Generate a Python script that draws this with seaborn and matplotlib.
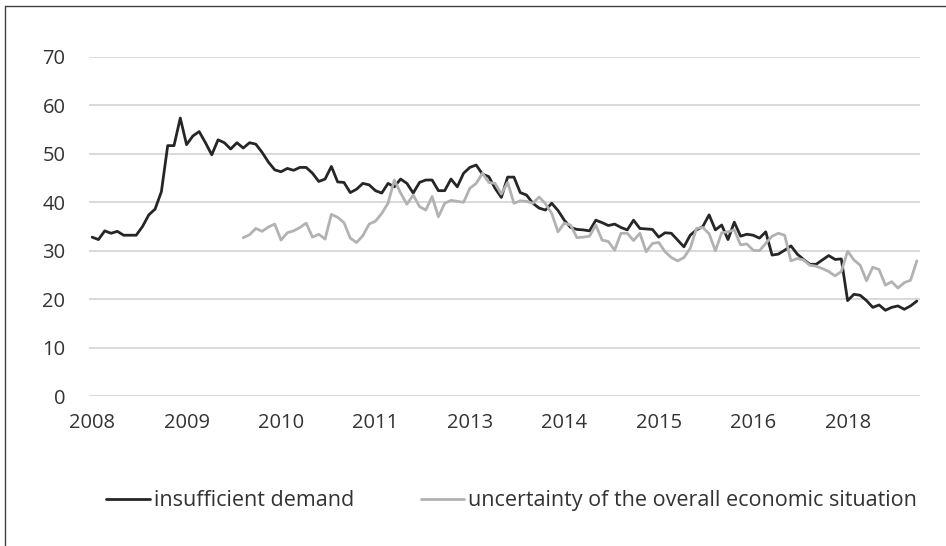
import matplotlib
matplotlib.use("Agg")
import matplotlib.pyplot as plt
from matplotlib.lines import Line2D
import seaborn as sns
import pandas as pd
import numpy as np

# monthly survey shares (%), Jan 2008 - Dec 2018
start_month = "2008-01"
n_months = 132
label_every = 15  # axis shows a label every 15 months

insufficient_demand = [
    32.8, 32.3, 34.1, 33.6, 34.0, 33.2, 33.2, 33.2, 35.0, 37.4,
    38.6, 42.2, 51.7, 51.7, 57.4, 51.9, 53.7, 54.6, 52.3, 49.8,
    52.9, 52.3, 51.0, 52.3, 51.2, 52.3, 52.0, 50.3, 48.3, 46.7,
    46.3, 47.0, 46.6, 47.2, 47.2, 46.0, 44.3, 44.8, 47.4, 44.2,
    44.1, 42.0, 42.7, 43.9, 43.6, 42.4, 41.9, 43.9, 43.2, 44.8,
    43.9, 41.9, 44.1, 44.6, 44.6, 42.4, 42.4, 44.8, 43.2, 46.0,
    47.2, 47.7, 45.8, 45.3, 42.9, 41.0, 45.2, 45.2, 42.0, 41.5,
    39.8, 38.8, 38.4, 39.8, 38.3, 36.3, 34.8, 34.4, 34.3, 34.1,
    36.3, 35.8, 35.2, 35.5, 34.8, 34.3, 36.3, 34.6, 34.5, 34.4,
    32.8, 33.7, 33.6, 32.2, 30.8, 33.2, 34.3, 35.0, 37.4, 34.3,
    35.3, 32.3, 35.9, 33.0, 33.4, 33.2, 32.6, 33.9, 29.1, 29.3,
    30.1, 31.0, 29.3, 28.2, 27.2, 27.2, 28.1, 29.0, 28.2, 28.3,
    19.7, 21.0, 20.8, 19.7, 18.3, 18.8, 17.7, 18.3, 18.6, 17.9,
    18.6, 19.6,
]

# series starts in Jan 2010
uncertainty_start = 24
uncertainty = [
    32.7, 33.3, 34.6, 34.0, 34.9, 35.5,
    32.2, 33.7, 34.1, 34.8, 35.7, 32.8, 33.4, 32.4, 37.5, 36.9,
    35.8, 32.6, 31.7, 33.1, 35.5, 36.1, 37.7, 39.8, 44.6, 41.9,
    39.6, 41.5, 39.1, 38.4, 41.2, 37.0, 39.8, 40.4, 40.2, 40.0,
    42.9, 43.9, 46.0, 44.1, 43.9, 41.7, 44.1, 39.8, 40.3, 40.2,
    39.8, 41.1, 39.7, 37.7, 33.9, 35.7, 35.3, 32.7, 32.8, 33.0,
    35.3, 32.2, 31.9, 30.1, 33.6, 33.6, 32.1, 33.6, 29.8, 31.5,
    31.7, 29.8, 28.6, 27.9, 28.6, 30.5, 34.6, 34.8, 33.5, 30.0,
    33.7, 33.9, 34.3, 31.2, 31.4, 30.1, 30.0, 31.5, 33.0, 33.6,
    33.2, 27.9, 28.4, 28.1, 27.0, 26.8, 26.3, 25.7, 24.8, 25.7,
    29.9, 28.1, 27.0, 23.8, 26.6, 26.1, 22.9, 23.6, 22.3, 23.4,
    23.9, 27.9,
]

series_names = ["insufficient demand", "uncertainty of the overall economic situation"]
series_colors = ["#262626", "#b2b2b2"]

months = pd.date_range(start_month, periods=n_months, freq="MS")

df = pd.concat([
    pd.DataFrame({"idx": np.arange(n_months), "value": insufficient_demand,
                  "series": series_names[0]}),
    pd.DataFrame({"idx": np.arange(uncertainty_start, uncertainty_start + len(uncertainty)),
                  "value": uncertainty, "series": series_names[1]}),
])

sns.set_style("white")
plt.rcParams["font.family"] = ["Open Sans", "DejaVu Sans"]

fig = plt.figure(figsize=(9.46, 5.46), dpi=100)
ax = fig.add_axes([89 / 946, 1 - 396 / 546, 831 / 946, 339 / 546])

sns.lineplot(data=df, x="idx", y="value", hue="series", hue_order=series_names,
             palette=series_colors, linewidth=2.0, ax=ax, legend=False)

ax.set_xlim(-0.5, n_months - 0.5)
ax.set_ylim(0, 70)
ax.set_yticks(range(0, 71, 10))
tick_pos = np.arange(0, n_months, label_every)
ax.set_xticks(tick_pos)
ax.set_xticklabels([str(m.year) for m in months[tick_pos]])
ax.grid(axis="y", color="#d9d9d9", linewidth=1.4)
ax.set_axisbelow(True)
for s in ax.spines.values():
    s.set_visible(False)
ax.tick_params(axis="both", length=0, labelsize=14.5, colors="#333333")
ax.tick_params(axis="y", pad=17)
ax.tick_params(axis="x", pad=12)
ax.set_xlabel("")
ax.set_ylabel("")

handles = [Line2D([], [], color=c, linewidth=2.0) for c in series_colors]
fig.legend(handles, series_names, loc="center", bbox_to_anchor=(0.541, 0.083),
           ncol=2, frameon=False, fontsize=15.5, handlelength=2.0,
           handletextpad=0.2, columnspacing=3.1, labelcolor="#333333")

# outer chart frame (clipped at right and bottom in the original)
fig.add_artist(Line2D([4.5 / 946, 4.5 / 946], [1 - 6 / 546, 0], color="#404040",
                      linewidth=1.0, transform=fig.transFigure))
fig.add_artist(Line2D([4.5 / 946, 1], [1 - 6 / 546, 1 - 6 / 546], color="#404040",
                      linewidth=1.0, transform=fig.transFigure))

fig.savefig("out.png", dpi=100)
